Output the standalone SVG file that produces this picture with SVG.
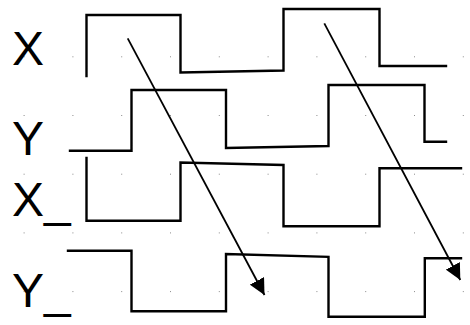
<svg xmlns="http://www.w3.org/2000/svg" width="470" height="325" viewBox="0 0 470 325">
<style>
.bg{fill:#fff}
.dot{fill:#8a8a8a}
.wave{fill:none;stroke:#000;stroke-width:2.4;stroke-linejoin:miter;stroke-linecap:square}
.lbl{font-family:"Liberation Sans",Arial,sans-serif;font-size:48px;fill:#000}
.arr{fill:none;stroke:#000;stroke-width:1.8}
</style>
<defs>
<pattern id="grid" x="0" y="0" width="48.8" height="58.7" patternUnits="userSpaceOnUse" patternTransform="translate(23.6 56.3)">
<rect class="dot" x="0" y="0" width="1" height="1"/>
</pattern>
<marker id="ah" viewBox="0 0 16 16" refX="16" refY="8" markerWidth="16" markerHeight="16" markerUnits="userSpaceOnUse" orient="auto">
<path d="M0,0 L16,8 L0,16 z" fill="#000"/>
</marker>
</defs>
<rect class="bg" x="0" y="0" width="470" height="325"/>
<rect x="0" y="0" width="470" height="325" fill="url(#grid)"/>
<g id="sig-X">
<text class="lbl" x="12" y="64.5">X</text>
<path class="wave" d="M86.5,76 V15 H180.5 V72.5 L283.5,70.5 V9 H379.5 V66 H446"/>
</g>
<g id="sig-Y">
<text class="lbl" x="12" y="154.5">Y</text>
<path class="wave" d="M70,150.8 H131.5 V90 H226 V148 L328.5,146 V85 H424.5 V141.8 H446"/>
</g>
<g id="sig-X_">
<text class="lbl" x="12" y="215.7">X_</text>
<path class="wave" d="M86.5,158 V220.8 H180.5 V162.5 L283.5,165 V226.2 H379.5 V168.3 H461"/>
</g>
<g id="sig-Y_">
<text class="lbl" x="12" y="306.7">Y_</text>
<path class="wave" d="M68,250.8 H131.5 V311.2 H226 V254 L328.5,256.8 V316.8 H424.8 V258.3 H461"/>
</g>
<g id="connectors">
<line class="arr" x1="127.7" y1="38.3" x2="264.5" y2="295" marker-end="url(#ah)"/>
<line class="arr" x1="324.3" y1="23.3" x2="460.3" y2="280" marker-end="url(#ah)"/>
</g>
</svg>
